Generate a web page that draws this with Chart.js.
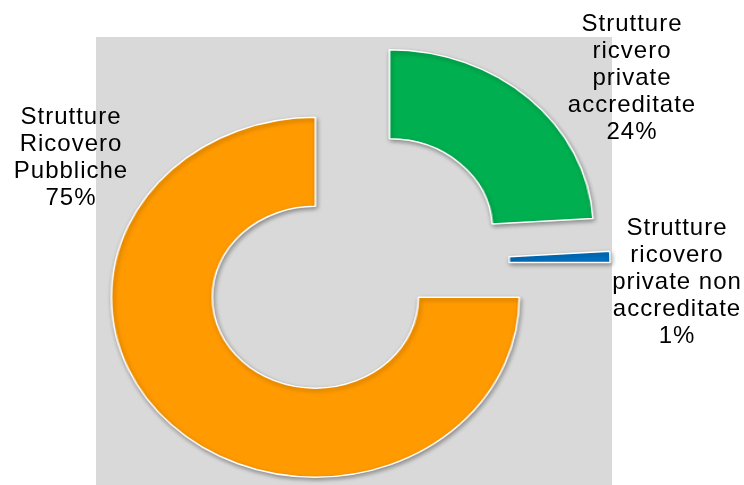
<!DOCTYPE html>
<html>
<head>
<meta charset="utf-8">
<script src="https://cdn.jsdelivr.net/npm/chart.js@4/dist/chart.umd.min.js"></script>
<style>
    html, body { margin: 0; padding: 0; background: #fff; overflow: hidden; width: 744px; height: 485px; }
    #fondo { position: absolute; left: 96px; top: 37px; width: 516px; height: 460px; background: #d9d9d9; }
    #wrap { position: absolute; left: 118px; top: 14px; width: 470px; height: 500px;
            transform: scaleX(1.133); transform-origin: 235px 250px; }
    .etiqueta { position: absolute; font-family: "Liberation Sans", Arial, sans-serif; font-size: 24px;
                line-height: 27px; letter-spacing: 1px; color: #000; text-align: center; width: 200px; }
</style>
</head>
<body>
<div id="fondo"></div>
<div id="wrap"><canvas id="chartTorta" width="470" height="500"></canvas></div>
<div class="etiqueta" id="lbl0" style="left:532px; top:9px;"></div>
<div class="etiqueta" id="lbl1" style="left:577px; top:213px;"></div>
<div class="etiqueta" id="lbl2" style="left:-29px; top:102px;"></div>

<script>
// Datos
const categorias = [
    ['Strutture', 'ricvero', 'private', 'accreditate'],
    ['Strutture', 'ricovero', 'private non', 'accreditate'],
    ['Strutture', 'Ricovero', 'Pubbliche']
];
const valores = [24, 1, 75];
const colores = ['#00b050', '#0070c0', '#ff9a00'];
const separacion = 47; // px que se separa cada sector del centro

// etiquetas de texto
categorias.forEach((lineas, i) => {
    const div = document.getElementById('lbl' + i);
    div.innerHTML = lineas.concat([valores[i] + '%']).join('<br>');
});

// sombra suave debajo de los sectores
const sombra = {
    id: 'sombra',
    beforeDatasetsDraw(chart) {
        const ctx = chart.ctx;
        ctx.save();
        ctx.shadowColor = 'rgba(0, 0, 0, 0.35)';
        ctx.shadowBlur = 4;
        ctx.shadowOffsetX = 1;
        ctx.shadowOffsetY = 2;
    },
    afterDatasetsDraw(chart) {
        chart.ctx.restore();
    }
};

// separar los sectores moviendo su centro (sin deformar el radio como hace "offset")
const explotar = {
    id: 'explotar',
    afterDatasetUpdate(chart, args) {
        const meta = chart.getDatasetMeta(args.index);
        meta.data.forEach(arc => {
            const medio = (arc.startAngle + arc.endAngle) / 2;
            arc.x += Math.cos(medio) * separacion;
            arc.y += Math.sin(medio) * separacion;
        });
    }
};

const ctx = document.getElementById('chartTorta').getContext('2d');
const chart = new Chart(ctx, {
    type: 'doughnut',
    data: {
        labels: categorias.map(l => l.join(' ')),
        datasets: [{
            data: valores,
            backgroundColor: colores,
            borderColor: '#ffffff',
            borderWidth: 1.5
        }]
    },
    options: {
        responsive: false,
        animation: false,
        radius: 180,
        cutout: '50.5%',
        layout: { padding: 0 },
        plugins: {
            legend: { display: false },
            tooltip: { enabled: false },
            title: { display: false }
        }
    },
    plugins: [sombra, explotar]
});
</script>
</body>
</html>
